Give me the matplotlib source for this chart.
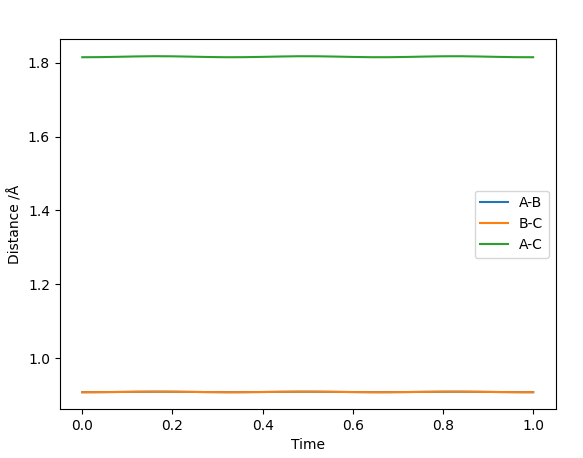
import matplotlib
matplotlib.use("Agg")
import matplotlib.pyplot as plt

time = [0.00, 0.04, 0.08, 0.12, 0.16, 0.20, 0.24, 0.28, 0.32, 0.36, 0.40, 0.44, 0.48,
        0.52, 0.56, 0.60, 0.64, 0.68, 0.72, 0.76, 0.80, 0.84, 0.88, 0.92, 0.96, 1.00]

d_ac = [1.8150, 1.8153, 1.8162, 1.8172, 1.8178, 1.8175, 1.8166, 1.8156, 1.8150,
        1.8152, 1.8160, 1.8170, 1.8177, 1.8176, 1.8168, 1.8158, 1.8151, 1.8151,
        1.8158, 1.8168, 1.8176, 1.8177, 1.8170, 1.8160, 1.8152, 1.8150]

d_ab = [0.90750, 0.90765, 0.90810, 0.90860, 0.90890, 0.90875, 0.90830, 0.90780,
        0.90750, 0.90760, 0.90800, 0.90850, 0.90885, 0.90880, 0.90840, 0.90790,
        0.90755, 0.90755, 0.90790, 0.90840, 0.90880, 0.90885, 0.90850, 0.90800,
        0.90760, 0.90750]

d_bc = [0.90750, 0.90765, 0.90810, 0.90860, 0.90890, 0.90875, 0.90830, 0.90780,
        0.90750, 0.90760, 0.90800, 0.90850, 0.90885, 0.90880, 0.90840, 0.90790,
        0.90755, 0.90755, 0.90790, 0.90840, 0.90880, 0.90885, 0.90850, 0.90800,
        0.90760, 0.90750]

fig = plt.figure(figsize=(5.83, 4.58), dpi=100)
ax = fig.add_axes([59.7 / 583, 49 / 458, 496 / 583, 369.6 / 458])

ax.plot(time, d_ab, label="A-B")
ax.plot(time, d_bc, label="B-C")
ax.plot(time, d_ac, label="A-C")
ax.set_xlabel("Time")
ax.set_ylabel("Distance /Å")
ax.legend(loc="center right")

fig.savefig("out.png", dpi=100)
